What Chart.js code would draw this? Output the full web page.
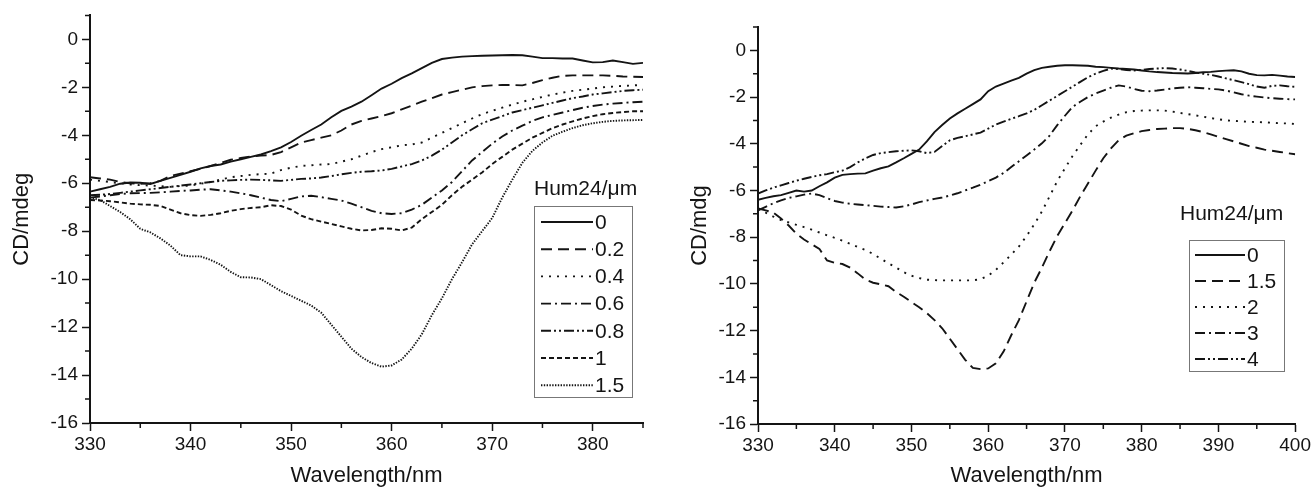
<!DOCTYPE html>
<html>
<head>
<meta charset="utf-8">
<script src="https://cdn.jsdelivr.net/npm/chart.js@4.4.1/dist/chart.umd.min.js"></script>
<style>
  html, body { margin: 0; padding: 0; background: #fff; }
  #wrap { position: relative; width: 1313px; height: 489px; }
  .box { position: absolute; top: 0; height: 489px; }
  #b1 { left: 0; width: 656px; }
  #b2 { left: 656px; width: 657px; }
</style>
</head>
<body>
<div id="wrap">
  <div class="box" id="b1"><canvas id="c1"></canvas></div>
  <div class="box" id="b2"><canvas id="c2"></canvas></div>
</div>
<script>
// ── datos ─────────────────────────────────────────────
// panel izquierdo: 330..385 nm
const wlA = [330,331,332,333,334,335,336,337,338,339,340,341,342,343,344,345,346,347,348,349,
             350,351,352,353,354,355,356,357,358,359,360,361,362,363,364,365,366,367,368,369,
             370,371,372,373,374,375,376,377,378,379,380,381,382,383,384,385];
const labelsA = ['0', '0.2', '0.4', '0.6', '0.8', '1', '1.5'];
const a0 = [-6.35,-6.25,-6.15,-6.02,-5.97,-5.98,-6.03,-5.9,-5.78,-5.65,
            -5.52,-5.38,-5.28,-5.22,-5.1,-5.0,-4.9,-4.8,-4.66,-4.5,
            -4.28,-4.02,-3.78,-3.55,-3.25,-2.98,-2.8,-2.6,-2.33,-2.05,
            -1.85,-1.62,-1.42,-1.2,-0.98,-0.82,-0.76,-0.72,-0.7,-0.68,
            -0.67,-0.66,-0.65,-0.66,-0.72,-0.78,-0.78,-0.8,-0.8,-0.88,
            -0.96,-0.95,-0.88,-0.95,-1.02,-0.98];
const a02 = [-5.75,-5.8,-5.85,-5.95,-6.0,-6.02,-6.0,-5.9,-5.7,-5.6,
             -5.5,-5.4,-5.28,-5.15,-5.02,-4.95,-4.88,-4.85,-4.82,-4.7,
             -4.5,-4.3,-4.2,-4.1,-4.0,-3.8,-3.55,-3.4,-3.3,-3.2,
             -3.08,-2.92,-2.76,-2.6,-2.45,-2.3,-2.2,-2.1,-2.0,-1.95,
             -1.92,-1.9,-1.9,-1.92,-1.82,-1.7,-1.6,-1.52,-1.5,-1.5,
             -1.5,-1.5,-1.52,-1.55,-1.56,-1.57];
const a04 = [-5.85,-5.9,-5.95,-6.0,-6.05,-6.08,-6.1,-6.12,-6.15,-6.12,
             -6.1,-6.02,-5.95,-5.85,-5.75,-5.7,-5.65,-5.62,-5.6,-5.45,
             -5.35,-5.28,-5.25,-5.22,-5.2,-5.1,-5.0,-4.85,-4.7,-4.58,
             -4.5,-4.42,-4.38,-4.3,-4.1,-3.9,-3.7,-3.5,-3.3,-3.12,
             -2.98,-2.85,-2.72,-2.6,-2.5,-2.4,-2.3,-2.22,-2.15,-2.1,
             -2.05,-2.0,-1.97,-1.94,-1.92,-1.9];
const a06 = [-6.6,-6.55,-6.5,-6.45,-6.42,-6.41,-6.4,-6.38,-6.35,-6.32,
             -6.3,-6.27,-6.25,-6.3,-6.35,-6.42,-6.5,-6.6,-6.7,-6.75,
             -6.65,-6.55,-6.52,-6.58,-6.65,-6.72,-6.85,-7.0,-7.15,-7.25,
             -7.28,-7.25,-7.1,-6.9,-6.6,-6.3,-5.95,-5.5,-5.05,-4.7,
             -4.35,-4.05,-3.8,-3.6,-3.4,-3.25,-3.15,-3.05,-2.95,-2.85,
             -2.78,-2.72,-2.68,-2.65,-2.62,-2.6];
const a08 = [-6.5,-6.48,-6.45,-6.4,-6.35,-6.3,-6.25,-6.2,-6.15,-6.1,
             -6.05,-6.0,-5.95,-5.9,-5.88,-5.86,-5.85,-5.86,-5.88,-5.9,
             -5.86,-5.82,-5.8,-5.76,-5.7,-5.63,-5.57,-5.52,-5.5,-5.47,
             -5.4,-5.3,-5.2,-5.05,-4.85,-4.6,-4.3,-4.0,-3.75,-3.5,
             -3.35,-3.2,-3.05,-2.95,-2.85,-2.75,-2.65,-2.55,-2.45,-2.38,
             -2.3,-2.25,-2.2,-2.15,-2.12,-2.1];
const a1 = [-6.7,-6.72,-6.75,-6.8,-6.85,-6.88,-6.9,-6.95,-7.1,-7.25,
            -7.33,-7.36,-7.32,-7.25,-7.15,-7.08,-7.03,-7.0,-6.92,-6.95,
            -7.1,-7.35,-7.5,-7.6,-7.7,-7.8,-7.9,-7.97,-7.95,-7.88,
            -7.9,-7.97,-7.85,-7.5,-7.2,-6.9,-6.5,-6.15,-5.85,-5.55,
            -5.2,-4.9,-4.6,-4.35,-4.1,-3.9,-3.7,-3.55,-3.42,-3.3,
            -3.2,-3.12,-3.07,-3.03,-3.0,-3.0];
const a15 = [-6.6,-6.7,-6.95,-7.2,-7.5,-7.9,-8.05,-8.3,-8.6,-9.0,
             -9.05,-9.05,-9.2,-9.4,-9.7,-9.92,-9.93,-10.0,-10.25,-10.5,
             -10.7,-10.9,-11.1,-11.4,-11.9,-12.4,-12.9,-13.25,-13.5,-13.65,
             -13.6,-13.35,-12.9,-12.3,-11.5,-10.8,-10.0,-9.3,-8.55,-8.0,
             -7.45,-6.6,-5.85,-5.15,-4.65,-4.3,-4.02,-3.85,-3.7,-3.58,
             -3.5,-3.44,-3.4,-3.38,-3.37,-3.36];

// panel derecho: 330..400 nm
const wlB = [330,331,332,333,334,335,336,337,338,339,340,341,342,343,344,345,346,347,348,349,
             350,351,352,353,354,355,356,357,358,359,360,361,362,363,364,365,366,367,368,369,
             370,371,372,373,374,375,376,377,378,379,380,381,382,383,384,385,386,387,388,389,
             390,391,392,393,394,395,396,397,398,399,400];
const labelsB = ['0', '1.5', '2', '3', '4'];
const b0 = [-6.4,-6.32,-6.25,-6.2,-6.1,-6.0,-6.05,-6.0,-5.82,-5.65,
            -5.45,-5.33,-5.3,-5.28,-5.27,-5.15,-5.05,-4.97,-4.8,-4.62,
            -4.43,-4.25,-3.9,-3.5,-3.2,-2.92,-2.7,-2.5,-2.3,-2.1,
            -1.75,-1.55,-1.42,-1.3,-1.18,-1.0,-0.85,-0.75,-0.7,-0.66,
            -0.64,-0.64,-0.65,-0.66,-0.7,-0.72,-0.75,-0.78,-0.8,-0.82,
            -0.86,-0.9,-0.93,-0.95,-0.97,-0.98,-0.99,-0.97,-0.94,-0.92,
            -0.89,-0.87,-0.85,-0.9,-1.0,-1.06,-1.07,-1.05,-1.08,-1.12,-1.14];
const b15 = [-6.77,-6.85,-6.95,-7.2,-7.5,-7.85,-8.1,-8.3,-8.5,-9.0,
             -9.1,-9.15,-9.3,-9.55,-9.82,-9.95,-10.02,-10.1,-10.35,-10.55,
             -10.78,-11.0,-11.25,-11.55,-11.9,-12.35,-12.8,-13.25,-13.6,-13.65,
             -13.62,-13.4,-12.9,-12.2,-11.55,-10.75,-9.95,-9.3,-8.6,-7.95,
             -7.4,-6.85,-6.25,-5.7,-5.15,-4.62,-4.2,-3.85,-3.65,-3.55,
             -3.46,-3.41,-3.37,-3.35,-3.33,-3.33,-3.36,-3.42,-3.5,-3.6,
             -3.7,-3.8,-3.9,-4.0,-4.1,-4.17,-4.25,-4.3,-4.35,-4.4,-4.45];
const b2 = [-6.8,-6.95,-7.12,-7.27,-7.37,-7.47,-7.57,-7.68,-7.8,-7.92,
            -8.03,-8.15,-8.28,-8.42,-8.55,-8.72,-8.92,-9.12,-9.3,-9.5,
            -9.65,-9.75,-9.82,-9.84,-9.85,-9.85,-9.85,-9.85,-9.85,-9.8,
            -9.65,-9.4,-9.08,-8.75,-8.4,-7.95,-7.45,-6.9,-6.25,-5.6,
            -5.05,-4.52,-4.05,-3.6,-3.25,-3.05,-2.88,-2.75,-2.65,-2.6,
            -2.58,-2.57,-2.57,-2.58,-2.62,-2.68,-2.73,-2.78,-2.84,-2.9,
            -2.95,-3.0,-3.02,-3.04,-3.06,-3.07,-3.08,-3.1,-3.12,-3.13,-3.15];
const b3 = [-6.85,-6.7,-6.55,-6.42,-6.32,-6.25,-6.18,-6.13,-6.2,-6.33,
            -6.45,-6.52,-6.57,-6.6,-6.63,-6.66,-6.69,-6.71,-6.73,-6.68,
            -6.6,-6.5,-6.43,-6.36,-6.3,-6.22,-6.12,-6.0,-5.88,-5.75,
            -5.6,-5.45,-5.25,-5.0,-4.75,-4.5,-4.25,-3.98,-3.65,-3.2,
            -2.8,-2.42,-2.2,-2.0,-1.85,-1.72,-1.6,-1.5,-1.55,-1.65,
            -1.73,-1.75,-1.72,-1.68,-1.63,-1.6,-1.58,-1.6,-1.62,-1.65,
            -1.67,-1.72,-1.8,-1.88,-1.94,-1.98,-2.02,-2.05,-2.07,-2.09,-2.1];
const b4 = [-6.13,-6.0,-5.88,-5.78,-5.68,-5.58,-5.5,-5.42,-5.35,-5.3,
            -5.22,-5.15,-5.0,-4.8,-4.62,-4.48,-4.4,-4.36,-4.32,-4.3,
            -4.28,-4.32,-4.4,-4.35,-4.1,-3.85,-3.75,-3.68,-3.6,-3.52,
            -3.35,-3.18,-3.05,-2.93,-2.82,-2.7,-2.55,-2.35,-2.15,-1.95,
            -1.75,-1.55,-1.35,-1.15,-1.0,-0.88,-0.78,-0.8,-0.84,-0.86,
            -0.84,-0.8,-0.78,-0.76,-0.78,-0.82,-0.88,-0.95,-1.0,-1.05,
            -1.12,-1.2,-1.28,-1.36,-1.45,-1.55,-1.6,-1.52,-1.5,-1.54,-1.56];

// ticks
const yTicks  = [-16,-14,-12,-10,-8,-6,-4,-2,0];
const yMinor  = [-15,-13,-11,-9,-7,-5,-3,-1,1];
const xTicksA = [330,340,350,360,370,380];
const xMinorA = [335,345,355,365,375,385];
const xTicksB = [330,340,350,360,370,380,390,400];
const xMinorB = [335,345,355,365,375,385,395];

// ── estilo ────────────────────────────────────────────
const INK  = '#141414';
const FONT = "'Liberation Sans', Arial, Helvetica, sans-serif";
const DASH = {
  solid: [], dash: [11, 6], dot: [2, 6], dashDot: [10, 4, 2, 4],
  dashDotDot: [10, 3, 2, 3, 2, 3], shortDash: [5, 3], fineDot: [1.4, 1.4],
};

function xy(xs, ys) { return xs.map((x, i) => ({x, y: ys[i]})); }

function ds(label, xs, ys, dash) {
  return {
    label, data: xy(xs, ys),
    borderColor: INK, borderWidth: 1.9, borderDash: dash,
    pointRadius: 0, tension: 0, fill: false,
  };
}

// leyenda con caja dentro del área
const boxLegend = {
  id: 'boxLegend',
  afterDraw(chart, args, o) {
    const ctx = chart.ctx;
    ctx.save();
    ctx.fillStyle = INK;
    ctx.textBaseline = 'middle';
    ctx.font = '21px ' + FONT;
    ctx.fillText(o.title, o.titleX, o.titleY);
    ctx.strokeStyle = '#777';
    ctx.lineWidth = 1;
    ctx.strokeRect(o.x + .5, o.y + .5, o.w, o.h);
    ctx.strokeStyle = INK;
    chart.data.datasets.forEach((d, i) => {
      const y = o.first + i * o.step;
      ctx.setLineDash(d.borderDash || []);
      ctx.lineWidth = d.borderWidth;
      ctx.beginPath();
      ctx.moveTo(o.lineX, y);
      ctx.lineTo(o.lineX + o.lineW, y);
      ctx.stroke();
      ctx.setLineDash([]);
      ctx.fillText(d.label, o.lineX + o.lineW + 2, y + 1);
    });
    ctx.restore();
  }
};

// ticks menores (más cortos)
const minorTicks = {
  id: 'minorTicks',
  afterDraw(chart, args, o) {
    const {ctx, scales: {x, y}} = chart;
    ctx.save();
    ctx.strokeStyle = INK;
    ctx.lineWidth = 1.5;
    ctx.beginPath();
    o.x.forEach(v => { const p = x.getPixelForValue(v); ctx.moveTo(p, x.top); ctx.lineTo(p, x.top + 5); });
    o.y.forEach(v => { const p = y.getPixelForValue(v); ctx.moveTo(y.right - 5, p); ctx.lineTo(y.right, p); });
    ctx.stroke();
    ctx.restore();
  }
};

function axes(xMax, xTicks, yTitle, yW, xH, yTitlePad) {
  const tickFont = {size: 19, family: FONT};
  const titleFont = {size: 22, family: FONT};
  return {
    x: {
      type: 'linear', min: 330, max: xMax,
      afterBuildTicks: s => { s.ticks = xTicks.map(v => ({value: v})); },
      afterFit: s => { s.height = xH; },
      grid: {drawOnChartArea: false, drawTicks: true, tickLength: 8, color: INK, tickWidth: 1.5},
      border: {color: INK, width: 2},
      ticks: {color: INK, font: tickFont, padding: 2, maxRotation: 0, autoSkip: false},
      title: {display: true, text: 'Wavelength/nm', color: INK, font: titleFont, padding: {top: 0, bottom: 0}},
    },
    y: {
      type: 'linear', min: -16, max: 1,
      afterBuildTicks: s => { s.ticks = yTicks.map(v => ({value: v})); },
      afterFit: s => { s.width = yW; },
      grid: {drawOnChartArea: false, drawTicks: true, tickLength: 8, color: INK, tickWidth: 1.5},
      border: {color: INK, width: 2},
      ticks: {color: INK, font: tickFont, padding: 4, autoSkip: false},
      title: {display: true, text: yTitle, color: INK, font: titleFont, padding: {top: yTitlePad, bottom: 0}},
    },
  };
}

function build(id, datasets, sc, pad, legend, minor) {
  return new Chart(document.getElementById(id), {
    type: 'line',
    data: {datasets},
    options: {
      responsive: true,
      maintainAspectRatio: false,
      animation: false,
      layout: {padding: pad},
      plugins: {
        legend: {display: false},
        tooltip: {enabled: false},
        boxLegend: legend,
        minorTicks: minor,
      },
      scales: sc,
    },
    plugins: [boxLegend, minorTicks],
  });
}

// ── panel izquierdo ──────────────────────────────────
build('c1', [
  ds(labelsA[0], wlA, a0,  DASH.solid),
  ds(labelsA[1], wlA, a02, DASH.dash),
  ds(labelsA[2], wlA, a04, DASH.dot),
  ds(labelsA[3], wlA, a06, DASH.dashDot),
  ds(labelsA[4], wlA, a08, DASH.dashDotDot),
  ds(labelsA[5], wlA, a1,  DASH.shortDash),
  ds(labelsA[6], wlA, a15, DASH.fineDot),
], axes(385, xTicksA, 'CD/mdeg', 90, 66, 9),
  {left: 0, top: 15, right: 13, bottom: 0},
  {title: 'Hum24/\u03bcm', titleX: 534, titleY: 189, x: 534, y: 206, w: 98, h: 191,
   first: 222, step: 27.2, lineX: 541, lineW: 52},
  {x: xMinorA, y: yMinor});

// ── panel derecho ────────────────────────────────────
build('c2', [
  ds(labelsB[0], wlB, b0,  DASH.solid),
  ds(labelsB[1], wlB, b15, DASH.dash),
  ds(labelsB[2], wlB, b2,  DASH.dot),
  ds(labelsB[3], wlB, b3,  DASH.dashDot),
  ds(labelsB[4], wlB, b4,  DASH.dashDotDot),
], axes(400, xTicksB, 'CD/mdg', 102, 65, 31),
  {left: 0, top: 27, right: 15, bottom: 0},
  {title: 'Hum24/\u03bcm', titleX: 524, titleY: 214, x: 533, y: 240, w: 95, h: 131,
   first: 255, step: 26, lineX: 539, lineW: 50},
  {x: xMinorB, y: yMinor});
</script>
</body>
</html>
